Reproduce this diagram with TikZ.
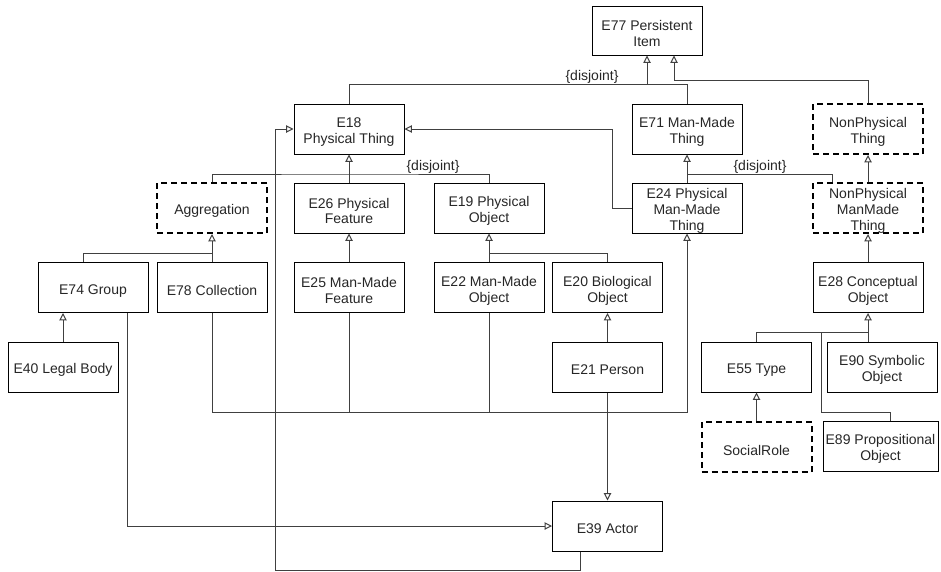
\documentclass[tikz,border=0pt]{standalone}
\usepackage{fontspec}
\setmainfont{Liberation Sans}
\usetikzlibrary{arrows.meta}
\newcommand{\mkbox}[4][box]{\node[#1] (#2) at (#3) {}; \node[txt] (#2-t) at ([yshift=-2.3pt]#2.center) {#4};}
\begin{document}
\begin{tikzpicture}[x=0.75pt,y=-0.75pt,
  box/.style={draw=black, line width=0.75pt, minimum width=82.5pt, minimum height=37.5pt, inner sep=0pt},
  dbox/.style={box, line width=1.5pt, dash pattern=on 4.5pt off 3pt},
  txt/.style={align=center, inner sep=0pt, font=\fontsize{10.5pt}{11.8pt}\selectfont, text=black!85},
  con/.style={draw=black!75, line width=0.75pt},
  gen/.style={con, -{Triangle[open, length=5.5pt, width=5.5pt, fill=white]}},
  lbl/.style={font=\fontsize{10.5pt}{11.8pt}\selectfont, text=black!85, inner sep=0pt}]
\useasboundingbox (0,0) rectangle (941,571);
% nodes
\mkbox[box, minimum height=36.75pt]{E77}{647,30.5}{E77 Persistent\\Item}
\mkbox{E18}{349,129}{E18\\Physical Thing}
\mkbox{E71}{687,129}{E71 Man-Made\\Thing}
\mkbox[dbox]{NPT}{868,129}{NonPhysical\\Thing}
\mkbox[dbox]{Agg}{212,208}{Aggregation}
\mkbox{E26}{349,208}{E26 Physical\\Feature}
\mkbox{E19}{489,208}{E19 Physical\\Object}
\mkbox{E24}{687,208}{E24 Physical\\Man-Made\\Thing}
\mkbox[dbox]{NPMMT}{868,208}{NonPhysical\\ManMade\\Thing}
\mkbox{E74}{93,287.5}{E74 Group}
\mkbox{E78}{212,287.5}{E78 Collection}
\mkbox{E25}{349,287.5}{E25 Man-Made\\Feature}
\mkbox{E22}{489,287.5}{E22 Man-Made\\Object}
\mkbox{E20}{607.5,287.5}{E20 Biological\\Object}
\mkbox{E28}{868,287.5}{E28 Conceptual\\Object}
\mkbox{E40}{63,367}{E40 Legal Body}
\mkbox{E21}{607.5,367}{E21 Person}
\mkbox{E55}{756.5,367}{E55 Type}
\mkbox{E90}{882,367}{E90 Symbolic\\Object}
\mkbox[dbox]{SR}{756.5,447}{SocialRole}
\mkbox[box, minimum width=86.25pt]{E89}{880.5,446}{E89 Propositional\\Object}
\mkbox{E39}{607.5,526}{E39 Actor}
% junction coordinates
\coordinate (j1) at (647,84);
\coordinate (k1) at (674,80);
\coordinate (j2) at (349,174);
\coordinate (j3) at (687,174);
\coordinate (j4) at (612,208);
\coordinate (j5) at (212,253);
\coordinate (j6) at (489,253);
\coordinate (b1) at (687,412);
\coordinate (c1) at (275,570);
\coordinate (j7) at (868,332);
\coordinate (j8) at (821,332);
\coordinate (j9) at (821,412);
% E77 generalizations
\draw[con] (E18.north) |- (j1);
\draw[con] (E71.north) |- (j1);
\draw[gen] (j1) -- (E77.south);
\draw[gen] (NPT.north) |- (k1) -- (k1 |- E77.south);
\node[lbl] (d1) at (592,77) {\{disjoint\}};
% E18 generalizations
\draw[con] (Agg.north) |- (j2) -| (E19.north);
\draw[gen] (E26.north) -- (E18.south);
\node[lbl] (d2) at (433,166.5) {\{disjoint\}};
\draw[gen] (E24.west) -- (j4) |- (E18.east);
% E71 generalizations
\draw[gen] (E24.north) -- (E71.south);
\draw[con] (j3) -| ([xshift=-27pt]NPMMT.north);
\node[lbl] (d3) at (760,166.5) {\{disjoint\}};
\draw[gen] (NPMMT.north) -- (NPT.south);
% Aggregation
\draw[gen] (E78.north) -- (Agg.south);
\draw[con] ([xshift=-7.5pt]E74.north) |- (j5);
% E19
\draw[gen] (E22.north) -- (E19.south);
\draw[con] (j6) -| (E20.north);
% others
\draw[gen] (E25.north) -- (E26.south);
\draw[gen] (E21.north) -- (E20.south);
\draw[gen] (E40.north) -- (E40.north |- E74.south);
% bus to E24
\draw[gen] (E78.south) |- (b1) -- (E24.south);
\draw[con] (E25.south) -- (E25.south |- b1);
\draw[con] (E22.south) -- (E22.south |- b1);
% Actor
\draw[gen] (E21.south) -- (E39.north);
\draw[gen] ([xshift=25.5pt]E74.south) |- (E39.west);
\draw[gen] ([xshift=-20.6pt]E39.south) |- (c1) |- (E18.west);
% conceptual object
\draw[gen] (E28.north) -- (NPMMT.south);
\draw[gen] (j7) -- (E28.south);
\draw[con] (E55.north) |- (j7);
\draw[con] (j7) -- (j7 |- E90.north);
\draw[con] (j8) -- (j9) -| ([xshift=7.5pt]E89.north);
\draw[gen] (SR.north) -- (E55.south);
\end{tikzpicture}
\end{document}
